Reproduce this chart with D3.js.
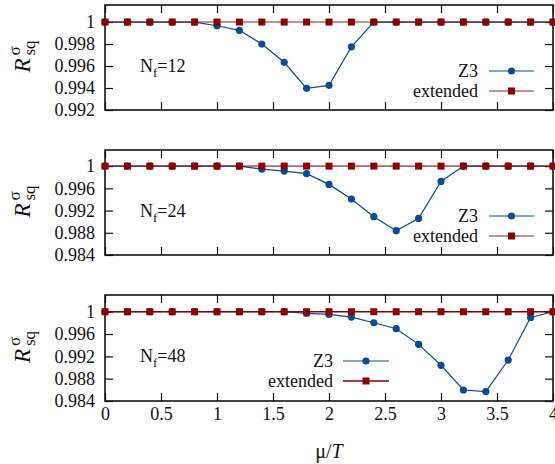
<!DOCTYPE html>
<html>
<head>
<meta charset="utf-8">
<script src="https://cdn.jsdelivr.net/npm/d3@7"></script>
<style>
  html, body { margin: 0; padding: 0; background: #fff; }
  svg { display: block; }
  svg text { fill: #111; }
</style>
</head>
<body>
<svg id="chart" width="555" height="464"></svg>
<script>
// chemical potential grid mu/T
const muT = [0, 0.2, 0.4, 0.6, 0.8, 1.0, 1.2, 1.4, 1.6, 1.8, 2.0, 2.2, 2.4, 2.6, 2.8, 3.0, 3.2, 3.4, 3.6, 3.8, 4.0];

// R^sigma_sq for the Z3-symmetric theory, per number of flavours
const z3Nf12 = [1, 1, 1, 1, 1, 0.99966, 0.99925, 0.998, 0.99634, 0.99397, 0.99424, 0.99775, 1, 1, 1, 1, 1, 1, 1, 1, 1];
const z3Nf24 = [1, 1, 1, 1, 1, 1, 1, 0.99946, 0.9991, 0.99865, 0.99671, 0.99407, 0.99089, 0.98837, 0.99059, 0.99725, 1, 1, 1, 1, 1];
const z3Nf48 = [1, 1, 1, 1, 1, 1, 1, 1, 1, 0.9997, 0.99952, 0.99904, 0.99803, 0.99696, 0.99415, 0.9904, 0.98597, 0.98569, 0.99134, 0.99898, 1];

// R^sigma_sq for the extended theory
const extNf12 = [1, 1, 1, 1, 1, 1, 1, 1, 1, 1, 1, 1, 1, 1, 1, 1, 1, 1, 1, 1, 1];
const extNf24 = [1, 1, 1, 1, 1, 1, 1, 1, 1, 1, 1, 1, 1, 1, 1, 1, 1, 1, 1, 1, 1];
const extNf48 = [1, 1, 1, 1, 1, 1, 1, 1, 1, 1, 1, 1, 1, 1, 1, 1, 1, 1, 1, 1, 1];

const nfLabels = ["12", "24", "48"];
const xTicks = [0, 0.5, 1, 1.5, 2, 2.5, 3, 3.5, 4];
const yTicks12 = [0.992, 0.994, 0.996, 0.998, 1];
const yTicks24 = [0.984, 0.988, 0.992, 0.996, 1];
const yTicks48 = [0.984, 0.988, 0.992, 0.996, 1];
const seriesNames = ["Z3", "extended"];

const BLUE = "#0b4a94";
const RED = "#8b0000";
const SERIF = '"Liberation Serif", "Times New Roman", Times, "DejaVu Serif", serif';

const svg = d3.select("#chart");
const left = 105, right = 553;
const x = d3.scaleLinear().domain([0, 4]).range([left, right]);

const panels = [
  { top: 5, bottom: 110, domain: [0.992, 1.00155], ticks: yTicks12, z3: z3Nf12, ext: extNf12, nf: nfLabels[0],
    legX: 478, legLine: [489, 534], extOpacity: 0.6 },
  { top: 150, bottom: 255, domain: [0.984, 1.0029], ticks: yTicks24, z3: z3Nf24, ext: extNf24, nf: nfLabels[1],
    legX: 478, legLine: [489, 534], extOpacity: 0.6 },
  { top: 295, bottom: 401, domain: [0.984, 1.003], ticks: yTicks48, z3: z3Nf48, ext: extNf48, nf: nfLabels[2],
    legX: 333, legLine: [343, 389], extOpacity: 1 }
];

const fmtY = d => (d === 1 ? "1" : d3.format(".3f")(d));
const fmtX = d => String(d);

panels.forEach((p, i) => {
  const y = d3.scaleLinear().domain(p.domain).range([p.bottom, p.top]);
  const g = svg.append("g");
  const tickLen = 8;

  // inward ticks on all four sides
  const axL = d3.axisLeft(y).tickValues(p.ticks).tickSize(-tickLen).tickFormat(fmtY).tickPadding(10);
  const axR = d3.axisRight(y).tickValues(p.ticks).tickSize(-tickLen).tickFormat("");
  const axB = d3.axisBottom(x).tickValues(xTicks).tickSize(-tickLen).tickFormat(i === 2 ? fmtX : "").tickPadding(6);
  const axT = d3.axisTop(x).tickValues(xTicks).tickSize(-tickLen).tickFormat("");

  [[axL, `translate(${left},0)`], [axR, `translate(${right},0)`],
   [axB, `translate(0,${p.bottom})`], [axT, `translate(0,${p.top})`]].forEach(([ax, tr]) => {
    const a = g.append("g").attr("transform", tr).call(ax).attr("font-family", SERIF).attr("font-size", 18);
    a.select(".domain").remove();
    a.selectAll(".tick line").attr("stroke", "#111").attr("stroke-width", 1.2);
    a.selectAll(".tick text").attr("fill", "#111");
  });

  // frame
  g.append("rect").attr("x", left).attr("y", p.top).attr("width", right - left).attr("height", p.bottom - p.top)
    .attr("fill", "none").attr("stroke", "#111").attr("stroke-width", 1.6);

  const marks = g.append("g");
  const line = d3.line().x((d, k) => x(muT[k])).y(d => y(d));

  // Z3 series
  marks.append("path").datum(p.z3).attr("d", line).attr("fill", "none").attr("stroke", BLUE).attr("stroke-width", 1.2);
  marks.selectAll("circle.z3").data(p.z3).join("circle").attr("class", "z3")
    .attr("cx", (d, k) => x(muT[k])).attr("cy", d => y(d)).attr("r", 3.6).attr("fill", BLUE);

  // extended series
  marks.append("path").datum(p.ext).attr("d", line).attr("fill", "none").attr("stroke", RED)
    .attr("stroke-width", 1.6).attr("stroke-opacity", p.extOpacity);
  const s = 7;
  marks.selectAll("rect.ext").data(p.ext).join("rect").attr("class", "ext")
    .attr("x", (d, k) => x(muT[k]) - s / 2).attr("y", d => y(d) - s / 2)
    .attr("width", s).attr("height", s).attr("fill", RED);

  // N_f annotation
  const nt = g.append("text").attr("x", 140).attr("y", p.top + 67).attr("font-family", SERIF).attr("font-size", 18);
  nt.append("tspan").text("N");
  nt.append("tspan").attr("dy", 5).attr("font-size", 13).text("f");
  nt.append("tspan").attr("dy", -5).text("=" + p.nf);

  // legend
  const legRows = [
    { name: seriesNames[0], color: BLUE, marker: "circle", dy: 66, op: 1 },
    { name: seriesNames[1], color: RED, marker: "square", dy: 86, op: p.extOpacity }
  ];
  legRows.forEach(r => {
    const ly = p.top + r.dy;
    g.append("text").attr("x", p.legX).attr("y", ly + 6).attr("text-anchor", "end")
      .attr("font-family", SERIF).attr("font-size", 18).text(r.name);
    g.append("line").attr("x1", p.legLine[0]).attr("x2", p.legLine[1]).attr("y1", ly).attr("y2", ly)
      .attr("stroke", r.color).attr("stroke-width", r.marker === "circle" ? 1.2 : 1.6).attr("stroke-opacity", r.op);
    const mx = (p.legLine[0] + p.legLine[1]) / 2;
    if (r.marker === "circle") {
      g.append("circle").attr("cx", mx).attr("cy", ly).attr("r", 3.6).attr("fill", r.color);
    } else {
      g.append("rect").attr("x", mx - s / 2).attr("y", ly - s / 2).attr("width", s).attr("height", s).attr("fill", r.color);
    }
  });

  // y-axis title R^sigma_sq
  const mid = (p.top + p.bottom) / 2;
  const yl = svg.append("g").attr("transform", `translate(30,${mid + 15}) rotate(-90)`).attr("font-family", SERIF);
  yl.append("text").attr("x", 0).attr("y", 0).attr("font-size", 23).attr("font-style", "italic").text("R");
  yl.append("text").attr("x", 17).attr("y", -10).attr("font-size", 17).text("σ");
  yl.append("text").attr("x", 17).attr("y", 5).attr("font-size", 17).text("sq");
});

// x-axis title
const xt = svg.append("text").attr("x", (left + right) / 2).attr("y", 458).attr("text-anchor", "middle")
  .attr("font-family", SERIF).attr("font-size", 20);
xt.append("tspan").text("μ/");
xt.append("tspan").attr("font-style", "italic").text("T");
</script>
</body>
</html>
